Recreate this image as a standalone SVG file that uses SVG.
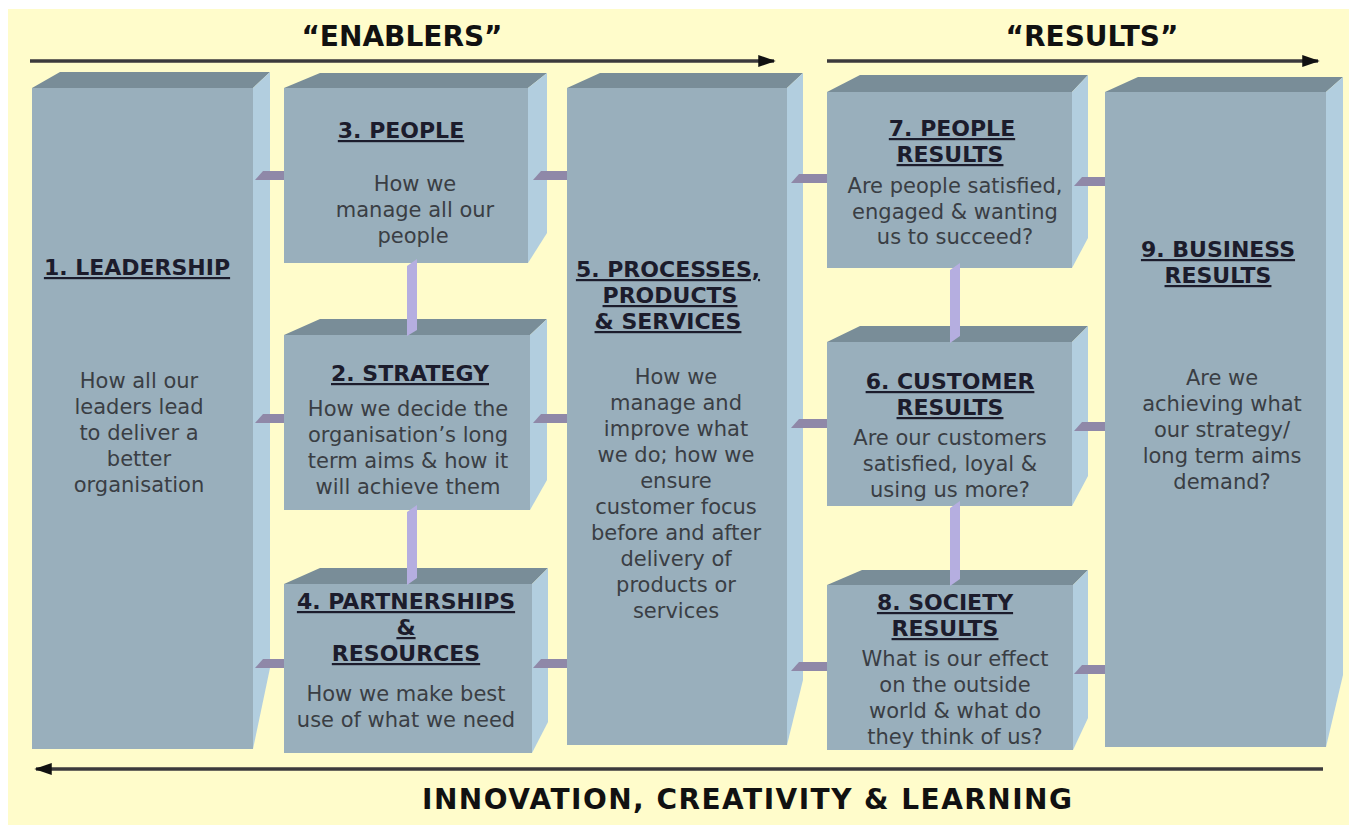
<svg xmlns="http://www.w3.org/2000/svg" width="1349" height="825" viewBox="0 0 1349 825">
<defs>
<style>
.front{fill:#99afbc}
.top{fill:#798d98}
.side{fill:#b2cedf}
.title{font-family:"DejaVu Sans","Verdana",sans-serif;font-weight:bold;font-size:22px;fill:#1c1c2c;text-anchor:middle;text-decoration:underline}
.body{font-family:"DejaVu Sans","Verdana",sans-serif;font-size:21px;fill:#3a3e44;text-anchor:middle}
.head{font-family:"DejaVu Sans","Verdana",sans-serif;font-weight:bold;font-size:28px;fill:#111;text-anchor:middle}
.hconn{fill:#8f88a8}
.vconn{fill:#b5aee0}
.arrow{stroke:#3c3a3c;stroke-width:3.5;fill:none}
</style>
<marker id="ah" markerWidth="5" markerHeight="3.4" refX="4.5" refY="1.7" orient="auto" markerUnits="strokeWidth">
<path d="M0,0 L5,1.7 L0,3.4 z" fill="#111"/>
</marker>
</defs>
<rect x="8" y="9" width="1341" height="816" fill="#fffccb"/>

<g id="arrows">
<line class="arrow" x1="30" y1="61" x2="774" y2="61" marker-end="url(#ah)"/>
<line class="arrow" x1="827" y1="61" x2="1318" y2="61" marker-end="url(#ah)"/>
<line class="arrow" x1="1323" y1="769" x2="36" y2="769" marker-end="url(#ah)"/>
</g>
<text class="head" x="402" y="46">“ENABLERS”</text>
<text class="head" x="1092" y="46">“RESULTS”</text>
<text class="head" x="747" y="809" textLength="650" lengthAdjust="spacing">INNOVATION, CREATIVITY &amp; LEARNING</text>

<g id="box1">
<polygon class="top" points="32,88 60,72 270,72 253,88"/>
<polygon class="side" points="253,88 270,72 270,668 253,749"/>
<rect class="front" x="32" y="88" width="221" height="661"/>
<text class="title" x="137" y="275">1. LEADERSHIP</text>
<text class="body" x="139" y="388">How all our</text>
<text class="body" x="139" y="414">leaders lead</text>
<text class="body" x="139" y="440">to deliver a</text>
<text class="body" x="139" y="466">better</text>
<text class="body" x="139" y="492">organisation</text>
</g>

<g id="box3">
<polygon class="top" points="284,88 320,73 547,73 528,88"/>
<polygon class="side" points="528,88 547,73 547,233 528,263"/>
<rect class="front" x="284" y="88" width="244" height="175"/>
<text class="title" x="401" y="138">3. PEOPLE</text>
<text class="body" x="415" y="191">How we</text>
<text class="body" x="415" y="217">manage all our</text>
<text class="body" x="413" y="243">people</text>
</g>

<g id="box2">
<polygon class="top" points="284,335 320,319 547,319 530,335"/>
<polygon class="side" points="530,335 547,319 547,480 530,510"/>
<rect class="front" x="284" y="335" width="246" height="175"/>
<text class="title" x="410" y="381">2. STRATEGY</text>
<text class="body" x="408" y="416">How we decide the</text>
<text class="body" x="408" y="442">organisation’s long</text>
<text class="body" x="408" y="468">term aims &amp; how it</text>
<text class="body" x="408" y="494">will achieve them</text>
</g>

<g id="box4">
<polygon class="top" points="284,584 320,568 548,568 532,584"/>
<polygon class="side" points="532,584 548,568 548,722 532,753"/>
<rect class="front" x="284" y="584" width="248" height="169"/>
<text class="title" x="406" y="609">4. PARTNERSHIPS</text>
<text class="title" x="406" y="635">&amp;</text>
<text class="title" x="406" y="661">RESOURCES</text>
<text class="body" x="406" y="701">How we make best</text>
<text class="body" x="406" y="727">use of what we need</text>
</g>

<g id="box5">
<polygon class="top" points="567,88 600,73 803,73 787,88"/>
<polygon class="side" points="787,88 803,73 803,680 787,745"/>
<rect class="front" x="567" y="88" width="220" height="657"/>
<text class="title" x="668" y="277">5. PROCESSES,</text>
<text class="title" x="670" y="303">PRODUCTS</text>
<text class="title" x="668" y="329">&amp; SERVICES</text>
<text class="body" x="676" y="384">How we</text>
<text class="body" x="676" y="410">manage and</text>
<text class="body" x="676" y="436">improve what</text>
<text class="body" x="676" y="462">we do; how we</text>
<text class="body" x="676" y="488">ensure</text>
<text class="body" x="676" y="514">customer focus</text>
<text class="body" x="676" y="540">before and after</text>
<text class="body" x="676" y="566">delivery of</text>
<text class="body" x="676" y="592">products or</text>
<text class="body" x="676" y="618">services</text>
</g>

<g id="box7">
<polygon class="top" points="827,92 860,75 1088,75 1072,92"/>
<polygon class="side" points="1072,92 1088,75 1088,238 1072,268"/>
<rect class="front" x="827" y="92" width="245" height="176"/>
<text class="title" x="952" y="136">7. PEOPLE</text>
<text class="title" x="950" y="162">RESULTS</text>
<text class="body" x="955" y="193">Are people satisfied,</text>
<text class="body" x="955" y="219">engaged &amp; wanting</text>
<text class="body" x="955" y="244">us to succeed?</text>
</g>

<g id="box6">
<polygon class="top" points="827,342 860,326 1088,326 1072,342"/>
<polygon class="side" points="1072,342 1088,326 1088,476 1072,506"/>
<rect class="front" x="827" y="342" width="245" height="164"/>
<text class="title" x="950" y="389">6. CUSTOMER</text>
<text class="title" x="950" y="415">RESULTS</text>
<text class="body" x="950" y="445">Are our customers</text>
<text class="body" x="950" y="471">satisfied, loyal &amp;</text>
<text class="body" x="950" y="497">using us more?</text>
</g>

<g id="box8">
<polygon class="top" points="827,585 862,570 1088,570 1073,585"/>
<polygon class="side" points="1073,585 1088,570 1088,718 1073,750"/>
<rect class="front" x="827" y="585" width="246" height="165"/>
<text class="title" x="945" y="610">8. SOCIETY</text>
<text class="title" x="945" y="636">RESULTS</text>
<text class="body" x="955" y="666">What is our effect</text>
<text class="body" x="955" y="692">on the outside</text>
<text class="body" x="955" y="718">world &amp; what do</text>
<text class="body" x="955" y="744">they think of us?</text>
</g>

<g id="box9">
<polygon class="top" points="1105,92 1138,77 1343,77 1326,92"/>
<polygon class="side" points="1326,92 1343,77 1343,675 1326,747"/>
<rect class="front" x="1105" y="92" width="221" height="655"/>
<text class="title" x="1218" y="257">9. BUSINESS</text>
<text class="title" x="1218" y="283">RESULTS</text>
<text class="body" x="1222" y="385">Are we</text>
<text class="body" x="1222" y="411">achieving what</text>
<text class="body" x="1222" y="437">our strategy/</text>
<text class="body" x="1222" y="463">long term aims</text>
<text class="body" x="1222" y="489">demand?</text>
</g>

<g id="connectors">
<polygon class="hconn" points="255,180 263,171 284,171 284,180"/>
<polygon class="hconn" points="255,423 263,414 284,414 284,423"/>
<polygon class="hconn" points="255,668 263,659 284,659 284,668"/>
<polygon class="hconn" points="533,180 541,171 567,171 567,180"/>
<polygon class="hconn" points="533,423 541,414 567,414 567,423"/>
<polygon class="hconn" points="533,668 541,659 567,659 567,668"/>
<polygon class="hconn" points="791,183 799,174 827,174 827,183"/>
<polygon class="hconn" points="791,428 799,419 827,419 827,428"/>
<polygon class="hconn" points="791,671 799,662 827,662 827,671"/>
<polygon class="hconn" points="1074,186 1082,177 1105,177 1105,186"/>
<polygon class="hconn" points="1074,431 1082,422 1105,422 1105,431"/>
<polygon class="hconn" points="1074,674 1082,665 1105,665 1105,674"/>
<polygon class="vconn" points="407,266 417,259 417,330 407,336"/>
<polygon class="vconn" points="407,512 417,505 417,578 407,585"/>
<polygon class="vconn" points="950,270 960,263 960,336 950,343"/>
<polygon class="vconn" points="950,508 960,501 960,579 950,586"/>
</g>
</svg>
